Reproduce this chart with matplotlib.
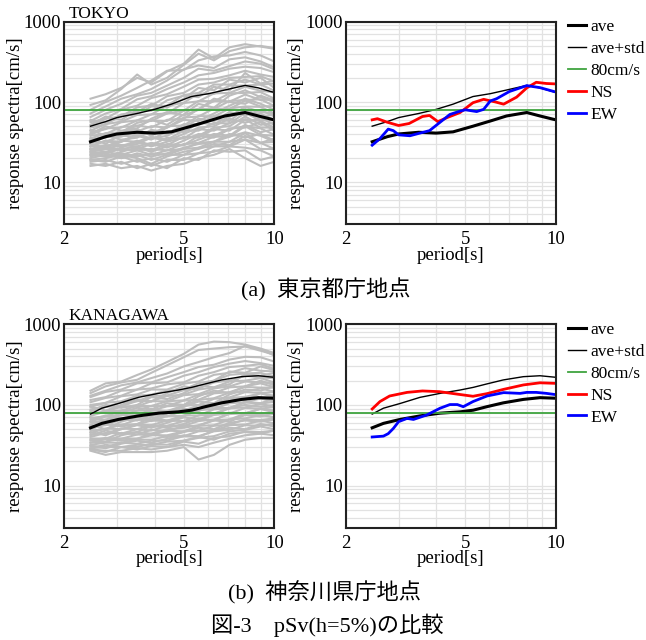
import matplotlib
matplotlib.use("Agg")
from matplotlib import pyplot as plt
from matplotlib.ticker import NullFormatter

plt.rcParams['font.family'] = ['Liberation Serif', 'Noto Sans CJK JP']

# periods [s]
period_grid = [2.45, 2.75, 3.1, 3.5, 3.9, 4.4, 5.0, 5.6, 6.3, 7.1, 8.0, 9.0, 10.0]
threshold = 80  # cm/s

# ---- TOKYO ----
tokyo_ave_T = [2.45, 2.75, 3.0, 3.5, 4.0, 4.55, 5.3, 6.05, 6.85, 8.0, 8.85, 9.8, 10.0]
tokyo_ave = [32, 37, 40, 42, 41, 42.5, 50, 58, 67, 74, 67, 61, 60]
tokyo_std = [50, 57, 64, 72, 81, 94, 117, 127, 141, 161, 150, 134, 132]

tokyo_ns_T = [2.45, 2.55, 2.75, 3.0, 3.25, 3.6, 3.8, 4.05, 4.35, 4.8, 5.3, 5.75, 6.3, 6.7, 7.4, 8.0, 8.6, 9.3, 10.0]
tokyo_ns = [60, 62, 56, 51, 54, 66, 68, 57, 64, 74, 98, 108, 100, 94, 115, 150, 176, 170, 168]

tokyo_ew_T = [2.45, 2.6, 2.77, 2.88, 3.0, 3.27, 3.53, 3.8, 4.12, 4.44, 4.8, 5.0, 5.45, 5.75, 6.05, 6.35, 7.0, 8.0, 8.85, 10.0]
tokyo_ew = [29, 35, 46, 44, 39, 38, 41, 44, 56, 70, 77, 80, 76, 81, 103, 110, 135, 160, 151, 133]

tokyo_gray = [
    [110, 125, 150, 200, 175, 240, 300, 450, 350, 480, 525, 490, 460],
    [92, 105, 145, 220, 165, 200, 290, 400, 330, 430, 480, 500, 470],
    [80, 100, 120, 150, 185, 245, 250, 330, 370, 380, 420, 380, 320],
    [72, 88, 110, 125, 145, 185, 255, 285, 265, 340, 360, 320, 270],
    [65, 80, 95, 120, 130, 160, 200, 260, 245, 280, 320, 300, 255],
    [58, 72, 82, 108, 118, 145, 175, 215, 230, 260, 275, 265, 235],
    [56, 62, 80, 90, 112, 125, 155, 190, 195, 215, 245, 220, 205],
    [60, 55, 70, 75, 95, 85, 110, 150, 140, 190, 175, 200, 150],
    [52, 66, 60, 80, 78, 105, 120, 115, 155, 140, 230, 170, 185],
    [50, 62, 66, 86, 90, 118, 130, 165, 175, 200, 205, 210, 180],
    [48, 53, 67, 70, 88, 90, 122, 130, 165, 165, 190, 165, 170],
    [44, 53, 57, 69, 70, 90, 98, 128, 126, 160, 160, 165, 138],
    [45, 38, 42, 55, 60, 52, 70, 95, 85, 120, 140, 115, 100],
    [42, 46, 56, 59, 70, 72, 97, 102, 128, 130, 155, 138, 132],
    [40, 50, 44, 47, 62, 75, 68, 80, 110, 100, 95, 120, 105],
    [39, 47, 48, 59, 58, 72, 78, 103, 102, 128, 130, 133, 110],
    [38, 40, 49, 50, 59, 58, 78, 82, 103, 101, 124, 106, 108],
    [36, 30, 40, 46, 38, 48, 60, 58, 72, 90, 110, 95, 80],
    [35, 41, 42, 51, 48, 60, 62, 82, 82, 103, 106, 108, 89],
    [34, 36, 43, 43, 50, 48, 64, 66, 83, 82, 104, 88, 89],
    [33, 38, 34, 36, 45, 42, 48, 62, 58, 75, 68, 80, 66],
    [31, 37, 37, 44, 40, 50, 51, 67, 66, 83, 88, 87, 72],
    [31, 32, 38, 37, 43, 40, 53, 53, 67, 66, 87, 75, 72],
    [30, 27, 32, 40, 35, 38, 47, 52, 62, 58, 82, 65, 70],
    [28, 33, 32, 38, 34, 43, 42, 55, 53, 66, 74, 72, 59],
    [28, 28, 33, 32, 37, 34, 44, 44, 55, 54, 73, 59, 59],
    [28, 33, 29, 30, 36, 33, 40, 48, 50, 62, 55, 64, 52],
    [26, 29, 28, 33, 29, 36, 35, 46, 44, 55, 61, 58, 48],
    [26, 26, 29, 28, 31, 29, 37, 36, 46, 44, 60, 48, 48],
    [26, 24, 27, 32, 28, 32, 36, 38, 48, 50, 66, 52, 55],
    [25, 28, 25, 26, 30, 27, 33, 40, 38, 47, 48, 56, 44],
    [24, 26, 26, 28, 25, 30, 29, 38, 36, 46, 50, 47, 39],
    [24, 23, 26, 25, 26, 25, 30, 31, 37, 37, 50, 39, 38],
    [23, 21, 24, 27, 24, 28, 29, 34, 40, 38, 52, 42, 46],
    [22, 24, 22, 25, 22, 25, 26, 31, 32, 37, 42, 38, 32],
    [22, 21, 23, 21, 23, 22, 26, 27, 32, 32, 41, 31, 32],
    [21, 23, 20, 23, 21, 23, 27, 30, 32, 40, 36, 40, 33],
    [20, 22, 20, 22, 19, 22, 22, 27, 28, 32, 34, 31, 26],
    [19, 20, 22, 20, 17, 21, 24, 26, 30, 29, 38, 31, 35],
    [19, 18, 21, 18, 20, 18, 22, 23, 28, 28, 34, 26, 26],
    [18, 19, 17, 19, 16, 19, 19, 23, 24, 28, 27, 25, 21],
    [17, 16, 18, 15, 17, 15, 20, 19, 25, 24, 25, 19, 21],
    [16, 17, 15, 16, 14, 16, 17, 20, 22, 26, 20, 16, 18],
]

# ---- KANAGAWA ----
kana_ave_T = [2.45, 2.67, 3.03, 3.53, 4.12, 4.8, 5.31, 5.89, 6.68, 7.79, 8.85, 10.0]
kana_ave = [52, 59, 66, 73, 79, 82, 86, 95, 106, 117, 123, 121]
kana_std = [77, 91, 104, 124, 139, 153, 165, 182, 204, 224, 230, 220]

kana_ns_T = [2.45, 2.6, 2.8, 3.2, 3.6, 4.1, 4.7, 5.3, 5.9, 6.7, 7.8, 8.85, 10.0]
kana_ns = [89, 110, 129, 143, 149, 146, 136, 128, 138, 156, 177, 188, 185]

kana_ew_T = [2.45, 2.67, 2.77, 2.88, 3.0, 3.2, 3.36, 3.72, 4.12, 4.44, 4.7, 4.92, 5.3, 5.9, 6.7, 7.6, 8.0, 8.6, 9.3, 10.0]
kana_ew = [40, 41, 44, 51, 62, 68, 66, 75, 91, 101, 101, 95, 110, 129, 142, 139, 143, 143, 139, 134]

kana_gray = [
    [150, 185, 195, 235, 275, 340, 430, 560, 610, 600, 560, 500, 440],
    [140, 170, 190, 205, 250, 310, 390, 480, 500, 520, 530, 470, 420],
    [130, 150, 175, 190, 215, 245, 300, 340, 390, 440, 540, 490, 410],
    [125, 145, 155, 185, 190, 220, 255, 295, 315, 365, 395, 390, 345],
    [115, 125, 150, 155, 185, 190, 230, 255, 295, 325, 350, 330, 305],
    [108, 122, 130, 155, 160, 180, 190, 230, 255, 295, 305, 320, 280],
    [100, 106, 128, 135, 155, 155, 183, 195, 236, 250, 286, 265, 260],
    [95, 85, 100, 118, 110, 140, 170, 160, 200, 260, 250, 300, 270],
    [95, 106, 111, 130, 134, 150, 155, 186, 200, 236, 245, 250, 225],
    [88, 94, 108, 111, 129, 131, 152, 160, 190, 200, 230, 220, 214],
    [85, 100, 92, 100, 125, 118, 140, 175, 165, 180, 240, 230, 250],
    [83, 95, 96, 112, 111, 129, 134, 155, 165, 195, 200, 215, 190],
    [78, 83, 95, 96, 111, 111, 132, 136, 160, 170, 195, 190, 186],
    [73, 83, 85, 97, 97, 111, 114, 134, 141, 165, 170, 185, 166],
    [70, 65, 80, 92, 88, 105, 100, 128, 150, 140, 170, 200, 175],
    [69, 72, 85, 85, 97, 97, 113, 116, 139, 144, 167, 164, 164],
    [65, 74, 74, 85, 85, 96, 99, 115, 121, 142, 146, 160, 146],
    [62, 72, 68, 72, 90, 82, 95, 110, 105, 135, 155, 150, 170],
    [61, 64, 75, 74, 85, 84, 98, 100, 119, 124, 144, 141, 144],
    [57, 66, 64, 75, 73, 84, 85, 99, 103, 122, 126, 139, 126],
    [56, 50, 62, 70, 66, 78, 90, 84, 100, 120, 115, 140, 130],
    [54, 56, 66, 64, 74, 72, 85, 86, 102, 106, 124, 121, 125],
    [51, 57, 56, 66, 63, 73, 73, 86, 89, 105, 108, 120, 110],
    [50, 58, 54, 58, 70, 64, 72, 88, 95, 90, 110, 105, 120],
    [48, 50, 57, 57, 64, 63, 74, 74, 88, 92, 107, 104, 109],
    [46, 42, 50, 56, 52, 60, 70, 66, 78, 92, 100, 95, 100],
    [45, 51, 50, 57, 56, 64, 63, 74, 76, 91, 93, 103, 95],
    [43, 44, 51, 50, 56, 55, 63, 64, 75, 78, 92, 90, 94],
    [42, 48, 44, 46, 55, 52, 58, 68, 64, 80, 78, 90, 85],
    [40, 45, 44, 50, 48, 55, 55, 63, 66, 77, 79, 89, 81],
    [38, 38, 45, 43, 49, 47, 55, 55, 65, 66, 78, 77, 80],
    [37, 35, 42, 46, 44, 50, 52, 56, 64, 62, 75, 72, 78],
    [36, 39, 38, 43, 42, 48, 47, 55, 56, 66, 68, 75, 70],
    [34, 35, 38, 38, 42, 42, 47, 48, 55, 57, 66, 65, 68],
    [34, 38, 36, 38, 44, 40, 46, 52, 50, 60, 64, 62, 66],
    [32, 34, 34, 37, 37, 41, 41, 47, 48, 56, 57, 64, 59],
    [31, 29, 33, 36, 34, 38, 42, 40, 48, 52, 50, 58, 54],
    [31, 30, 34, 33, 36, 36, 41, 41, 47, 49, 56, 55, 58],
    [29, 32, 30, 30, 33, 32, 36, 40, 37, 44, 46, 44, 48],
    [29, 30, 30, 32, 32, 35, 36, 39, 41, 47, 49, 54, 50],
    [28, 27, 27, 29, 28, 30, 32, 30, 34, 38, 42, 44, 42],
    [28, 26, 30, 28, 31, 30, 35, 33, 39, 41, 47, 46, 48],
    [27, 24, 26, 26, 26, 27, 30, 21, 24, 32, 37, 39, 39],
]

gray_col = '#bdbdbd'
grid_col = '#e2e2e2'


def setup_axes(ax, title=None):
    ax.set_xscale('log')
    ax.set_yscale('log')
    ax.set_xlim(2, 10)
    ax.set_ylim(3, 1000)
    ax.set_xticks([2, 5, 10], labels=['2', '5', '10'])
    ax.set_xticks([3, 4, 6, 7, 8, 9], minor=True)
    ax.set_yticks([10, 100, 1000], labels=['10', '100', '1000'])
    ax.set_yticks([m * d for d in (1, 10, 100) for m in range(2, 10) if m * d >= 3], minor=True)
    ax.xaxis.set_minor_formatter(NullFormatter())
    ax.yaxis.set_minor_formatter(NullFormatter())
    ax.tick_params(which='both', length=0, labelsize=13.5)
    ax.tick_params(axis='x', pad=5)
    ax.tick_params(axis='y', pad=2)
    ax.grid(True, which='both', color=grid_col, lw=0.9)
    ax.set_axisbelow(True)
    for sp in ax.spines.values():
        sp.set_linewidth(1.5)
        sp.set_color('#222222')
    ax.set_xlabel('period[s]', fontsize=13.5, labelpad=-1)
    if title:
        ax.text(0.02, 1.0, title, transform=ax.transAxes, ha='left', va='bottom', fontsize=12.5)


fig = plt.figure(figsize=(6.46, 6.40), dpi=100)

rects = {
    'tl': [0.0991, 0.6495, 0.3255, 0.3166],
    'tr': [0.5351, 0.6495, 0.3255, 0.3166],
    'bl': [0.0991, 0.1755, 0.3255, 0.3178],
    'br': [0.5351, 0.1755, 0.3255, 0.3178],
}

sites = [
    ('tl', 'tr', 'TOKYO', tokyo_gray, tokyo_ave_T, tokyo_ave, tokyo_std,
     tokyo_ns_T, tokyo_ns, tokyo_ew_T, tokyo_ew),
    ('bl', 'br', 'KANAGAWA', kana_gray, kana_ave_T, kana_ave, kana_std,
     kana_ns_T, kana_ns, kana_ew_T, kana_ew),
]

for lk, rk, name, gray, aT, ave, std, nT, ns, eT, ew in sites:
    axl = fig.add_axes(rects[lk])
    setup_axes(axl, name)
    axl.set_ylabel('response spectra[cm/s]', fontsize=13.5, labelpad=0)
    for g in gray:
        axl.plot(period_grid, g, color=gray_col, lw=1.5)
    axl.axhline(threshold, color='#3fa43f', lw=1.3)
    axl.plot(aT, std, color='black', lw=1.0)
    axl.plot(aT, ave, color='black', lw=2.2)

    axr = fig.add_axes(rects[rk])
    setup_axes(axr)
    axr.set_ylabel('response spectra[cm/s]', fontsize=13.5, labelpad=0)
    h_ave, = axr.plot(aT, ave, color='black', lw=2.2, label='ave')
    h_std, = axr.plot(aT, std, color='black', lw=1.0, label='ave+std')
    h_80 = axr.axhline(threshold, color='#3fa43f', lw=1.3, label='80cm/s')
    h_ns, = axr.plot(nT, ns, color='#ff0000', lw=2.0, label='NS')
    h_ew, = axr.plot(eT, ew, color='#0000ff', lw=2.0, label='EW')
    axr.legend(handles=[h_ave, h_std, h_80, h_ns, h_ew], loc='upper left',
               bbox_to_anchor=(1.058, 1.012), frameon=False, fontsize=12.5,
               borderpad=0, borderaxespad=0, handlelength=1.05,
               handletextpad=0.25, labelspacing=0.33)

fig.text(326 / 646, 1 - 290 / 640, '(a)  東京都庁地点', ha='center', va='center', fontsize=16)
fig.text(324 / 646, 1 - 593 / 640, '(b)  神奈川県庁地点', ha='center', va='center', fontsize=16)
fig.text(327 / 646, 1 - 625 / 640, '図-3\u3000pSv(h=5%)の比較', ha='center', va='center', fontsize=16)

fig.savefig('out.png', dpi=100)
